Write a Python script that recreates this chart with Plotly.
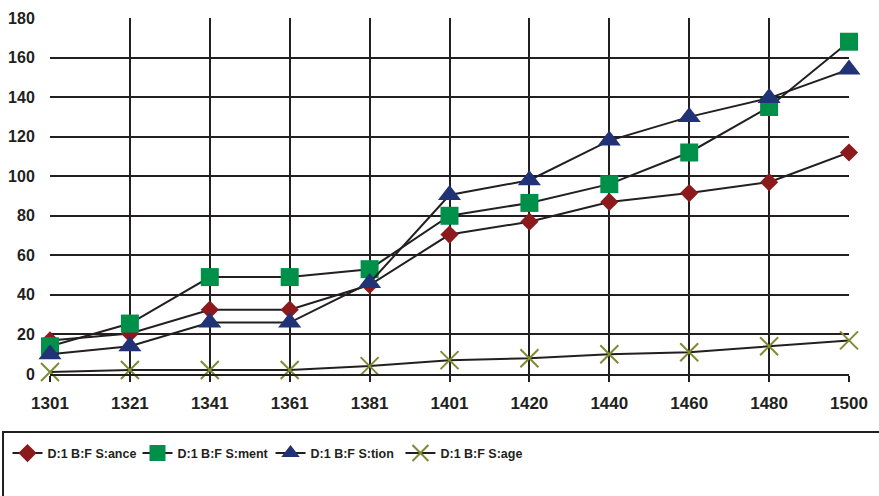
import plotly.graph_objects as go

years = ["1301", "1321", "1341", "1361", "1381", "1401", "1420", "1440", "1460", "1480", "1500"]
y_ticks = [0, 20, 40, 60, 80, 100, 120, 140, 160, 180]

ance = [17, 20.5, 32.5, 32.5, 45, 70.5, 77, 87, 91.5, 97, 112]
ment = [14, 25.5, 49, 49, 53, 80, 86.5, 96, 112, 135, 168]
tion = [10, 14, 26, 26, 46, 90.5, 98, 118, 130, 139.5, 154]
age = [1, 2, 2, 2, 4, 7, 8, 10, 11, 14, 17]

series = [
    ("D:1 B:F S:ance", ance, dict(symbol="diamond", size=14, color="#8c1a1d")),
    ("D:1 B:F S:ment", ment, dict(symbol="square", size=18, color="#00904a")),
    ("D:1 B:F S:tion", tion, dict(symbol="triangle-up", size=20, color="#213276")),
    ("D:1 B:F S:age", age, dict(symbol="x-thin", size=18, color="#7d8b33",
                                line=dict(width=2, color="#7d8b33"))),
]

LINE = "#231f20"
FONT = "Liberation Sans, Arial, sans-serif"

# one legend box per series so each entry sits at its own slot in the key row
legend_ids = ["legend", "legend2", "legend3", "legend4"]
legend_x = [-0.0532, 0.1095, 0.2760, 0.4386]

fig = go.Figure()
for (name, vals, marker), lid in zip(series, legend_ids):
    fig.add_trace(go.Scatter(
        x=years, y=vals, name=name, mode="lines+markers",
        line=dict(color=LINE, width=2),
        marker=marker, cliponaxis=False, legend=lid,
    ))

legend_style = dict(
    orientation="h", y=-0.181, xanchor="left", yanchor="top",
    font=dict(family=FONT, size=12.5, color=LINE, weight="bold"),
    bgcolor="rgba(0,0,0,0)", itemclick=False, itemdoubleclick=False,
)

fig.update_layout(
    width=879, height=496,
    margin=dict(l=50, r=30, t=18, b=122, autoexpand=False),
    paper_bgcolor="white", plot_bgcolor="white",
    showlegend=True,
    **{lid: dict(x=lx, **legend_style) for lid, lx in zip(legend_ids, legend_x)},
    xaxis=dict(
        type="category", range=[0, 10], automargin=False,
        showgrid=True, gridcolor=LINE, gridwidth=2,
        showline=True, linecolor=LINE, linewidth=2,
        ticks="outside", ticklen=6, tickwidth=2, tickcolor=LINE,
        ticklabelstandoff=7,
        tickfont=dict(family=FONT, size=17, color=LINE, weight="bold"),
        zeroline=False,
    ),
    yaxis=dict(
        range=[0, 180], tickvals=y_ticks, automargin=False,
        showgrid=True, gridcolor=LINE, gridwidth=2,
        showline=False, zeroline=False,
        ticks="outside", ticklen=11, tickcolor="rgba(0,0,0,0)",
        tickfont=dict(family=FONT, size=16, color=LINE, weight="bold"),
    ),
    shapes=[dict(
        type="rect", xref="paper", yref="paper",
        x0=-0.0588, x1=1.06, y0=-0.163, y1=-0.40,
        line=dict(color=LINE, width=2), fillcolor="rgba(0,0,0,0)", layer="below",
    )],
)

fig.write_html("out.html")
